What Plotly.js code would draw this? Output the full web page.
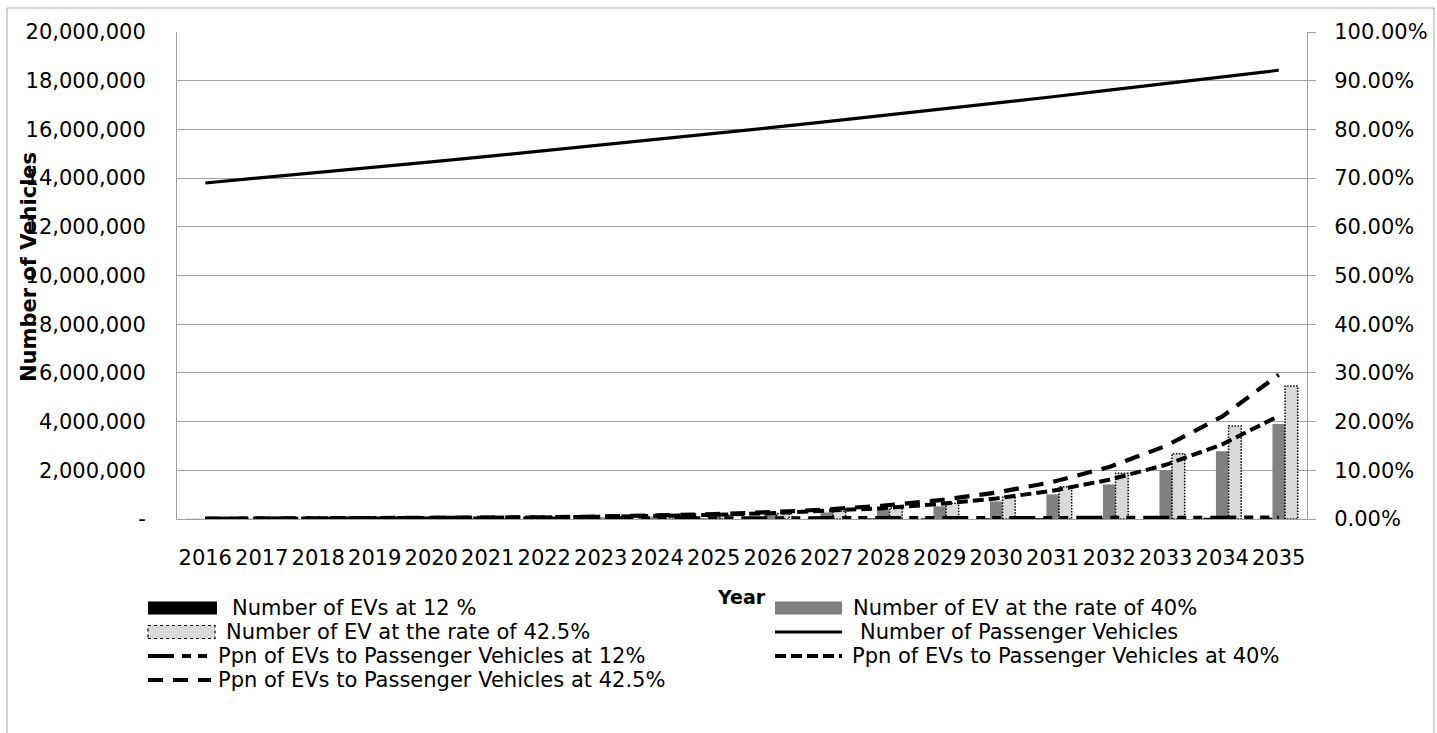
<!DOCTYPE html>
<html>
<head>
<meta charset="utf-8">
<script src="https://cdn.plot.ly/plotly-3.0.1.min.js"></script>
<style>
  html, body { margin: 0; padding: 0; background: #ffffff; }
  #chart { width: 1437px; height: 733px; }
</style>
</head>
<body>
<div id="chart"></div>
<script>
// Projection years
const years = ['2016', '2017', '2018', '2019', '2020', '2021', '2022', '2023', '2024', '2025',
               '2026', '2027', '2028', '2029', '2030', '2031', '2032', '2033', '2034', '2035'];

// Total passenger vehicles
const passengerVehicles = [13800000, 14010000, 14230000, 14450000, 14670000, 14890000, 15120000, 15350000, 15590000, 15830000,
                           16070000, 16320000, 16570000, 16820000, 17080000, 17340000, 17610000, 17880000, 18150000, 18430000];

// Number of EVs under each growth rate
const evAt12 = [6500, 7300, 8150, 9130, 10230, 11450, 12830, 14370, 16090, 18020,
                20190, 22610, 25320, 28360, 31760, 35570, 39840, 44620, 49980, 55980];
const evAt40 = [6600, 9200, 13000, 18000, 25000, 35000, 49000, 69000, 97000, 135000,
                190000, 265000, 370000, 520000, 720000, 1010000, 1420000, 1990000, 2780000, 3900000];
const evAt425 = [6500, 9300, 13200, 18800, 26800, 38200, 54500, 77600, 110600, 157600,
                 224600, 320000, 456000, 650000, 926000, 1320000, 1880000, 2680000, 3820000, 5460000];

// Proportion of EVs to passenger vehicles (fraction)
const ppnAt12 = [0.0005, 0.0005, 0.0006, 0.0006, 0.0007, 0.0008, 0.0008, 0.0009, 0.0010, 0.0011,
                 0.0013, 0.0014, 0.0015, 0.0017, 0.0019, 0.0021, 0.0023, 0.0025, 0.0028, 0.0030];
const ppnAt40 = [0.0005, 0.0007, 0.0009, 0.0012, 0.0017, 0.0024, 0.0032, 0.0045, 0.0062, 0.0085,
                 0.0118, 0.0162, 0.0223, 0.0309, 0.0422, 0.0582, 0.0806, 0.1113, 0.1532, 0.2116];
const ppnAt425 = [0.0005, 0.0007, 0.0009, 0.0013, 0.0018, 0.0026, 0.0036, 0.0051, 0.0071, 0.0100,
                  0.0140, 0.0196, 0.0275, 0.0386, 0.0542, 0.0761, 0.1068, 0.1499, 0.2105, 0.2963];

// Left axis ticks
const vehicleTickVals = [0, 2000000, 4000000, 6000000, 8000000, 10000000, 12000000, 14000000, 16000000, 18000000, 20000000];
const vehicleTickText = ['-', '2,000,000', '4,000,000', '6,000,000', '8,000,000', '10,000,000',
                         '12,000,000', '14,000,000', '16,000,000', '18,000,000', '20,000,000'];

// Series labels
const seriesNames = [
  'Number of EVs at 12 %',
  'Number of EV at the rate of 40%',
  'Number of EV at the rate of 42.5%',
  'Number of Passenger Vehicles',
  'Ppn of EVs to Passenger Vehicles at 12%',
  'Ppn of EVs to Passenger Vehicles at 40%',
  'Ppn of EVs to Passenger Vehicles at 42.5%'
];

const FONT = 'DejaVu Sans, Verdana, sans-serif';
const GRID = '#a0a0a0';

// Plot frame in pixels
const W = 1437, H = 733;
const M = { l: 177, r: 130, t: 32, b: 214 };
const PW = W - M.l - M.r, PH = H - M.t - M.b;
const px = x => (x - M.l) / PW;
const py = y => (H - M.b - y) / PH;

const DASH12 = '26px,8px,9px,7px,9px,8px';
const DASH40 = '11px,5px';
const DASH425 = '15px,10px';

const traces = [
  { type: 'bar', x: years, y: evAt12, name: seriesNames[0], marker: { color: '#000000' } },
  { type: 'bar', x: years, y: evAt40, name: seriesNames[1], marker: { color: '#808080' } },
  { type: 'bar', x: years, y: evAt425, name: seriesNames[2],
    marker: { color: '#d9d9d9', line: { color: '#000000', width: 1.5 } } },
  { type: 'scatter', mode: 'lines', x: years, y: passengerVehicles, name: seriesNames[3],
    line: { color: '#000000', width: 3.2 } },
  { type: 'scatter', mode: 'lines', x: years, y: ppnAt12, yaxis: 'y2', name: seriesNames[4],
    line: { color: '#000000', width: 4, dash: DASH12 } },
  { type: 'scatter', mode: 'lines', x: years, y: ppnAt40, yaxis: 'y2', name: seriesNames[5],
    line: { color: '#000000', width: 4, dash: DASH40 } },
  { type: 'scatter', mode: 'lines', x: years, y: ppnAt425, yaxis: 'y2', name: seriesNames[6],
    line: { color: '#000000', width: 4.2, dash: DASH425 } }
];

// Hand-placed legend (two columns)
const legendShapes = [];
const legendNotes = [];
function swatchRect(x0, x1, yc, fill, line) {
  legendShapes.push({ type: 'rect', xref: 'paper', yref: 'paper',
    x0: px(x0), x1: px(x1), y0: py(yc + 6.5), y1: py(yc - 6.5),
    fillcolor: fill, line: line || { width: 0 } });
}
function swatchLine(x0, x1, yc, width, dash) {
  legendShapes.push({ type: 'line', xref: 'paper', yref: 'paper',
    x0: px(x0), x1: px(x1), y0: py(yc), y1: py(yc),
    line: { color: '#000000', width: width, dash: dash } });
}
function label(x, yc, text) {
  legendNotes.push({ xref: 'paper', yref: 'paper', x: px(x), y: py(yc), xanchor: 'left', yanchor: 'middle',
    showarrow: false, text: text, font: { family: FONT, size: 21, color: '#000000' } });
}
const rowY = [608, 632, 656, 680];
swatchRect(148, 217, rowY[0], '#000000');
label(230, rowY[0], seriesNames[0]);
swatchRect(148, 215, rowY[1], '#d9d9d9', { color: '#000000', width: 1.2, dash: 'dot' });
label(224, rowY[1], seriesNames[2]);
swatchLine(148, 211, rowY[2], 4, DASH12);
label(216, rowY[2], seriesNames[4]);
swatchLine(148, 211, rowY[3], 4, DASH425);
label(216, rowY[3], seriesNames[6]);
swatchRect(775, 842, rowY[0], '#808080');
label(851, rowY[0], seriesNames[1]);
swatchLine(775, 842, rowY[1], 3.2);
label(858, rowY[1], seriesNames[3]);
swatchLine(775, 842, rowY[2], 4, DASH40);
label(850, rowY[2], seriesNames[5]);

// Chart-area border
legendShapes.push({ type: 'rect', xref: 'paper', yref: 'paper', layer: 'below',
  x0: px(7), x1: px(1434), y0: py(740), y1: py(8), line: { color: '#a6a6a6', width: 1 } });

const annotations = legendNotes.concat([
  { xref: 'paper', yref: 'paper', x: px(29), y: py(267), textangle: -90, showarrow: false,
    text: 'Number of Vehicles', xanchor: 'center', yanchor: 'middle',
    font: { family: FONT, size: 21, color: '#000000', weight: 'bold' } },
  { xref: 'paper', yref: 'paper', x: px(741), y: py(597), showarrow: false,
    text: 'Year', xanchor: 'center', yanchor: 'middle',
    font: { family: FONT, size: 19, color: '#000000', weight: 'bold' } }
]);

const layout = {
  width: W, height: H,
  margin: M,
  paper_bgcolor: '#ffffff', plot_bgcolor: '#ffffff',
  showlegend: false,
  barmode: 'group', bargap: 0.33, bargroupgap: 0,
  font: { family: FONT, size: 21, color: '#000000' },
  xaxis: {
    type: 'category', categoryorder: 'array', categoryarray: years,
    showline: true, linecolor: GRID, linewidth: 1, showgrid: false, zeroline: false,
    ticks: '', ticklabelstandoff: 20,
    tickfont: { family: FONT, size: 21, color: '#000000' }
  },
  yaxis: {
    range: [0, 20000000], tickvals: vehicleTickVals, ticktext: vehicleTickText,
    showline: true, linecolor: GRID, linewidth: 1,
    showgrid: true, gridcolor: GRID, gridwidth: 1, zeroline: false,
    ticks: '', ticklabelstandoff: 26,
    tickfont: { family: FONT, size: 21, color: '#000000' }
  },
  yaxis2: {
    overlaying: 'y', side: 'right', range: [0, 1], dtick: 0.1, tick0: 0,
    tickformat: '.2%', showgrid: false, zeroline: false,
    showline: true, linecolor: GRID, linewidth: 1,
    ticks: 'outside', ticklen: 8, tickcolor: GRID, ticklabelstandoff: 14,
    tickfont: { family: FONT, size: 21, color: '#000000' }
  },
  shapes: legendShapes,
  annotations: annotations
};

Plotly.newPlot('chart', traces, layout, { staticPlot: true, displayModeBar: false }).then(gd => {
  // dotted outline on the 42.5% bars
  const barTraces = gd.querySelectorAll('.barlayer .trace.bars');
  if (barTraces[2]) {
    barTraces[2].querySelectorAll('path').forEach(p => {
      p.style.strokeDasharray = '1.5,1.5';
    });
  }
});
</script>
</body>
</html>
